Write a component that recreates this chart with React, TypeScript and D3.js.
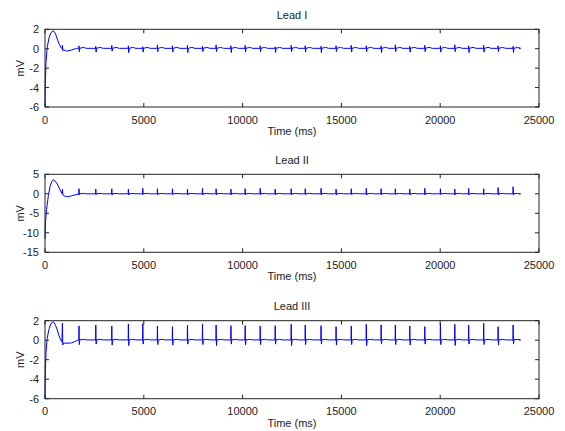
import React, { useEffect, useRef } from "react";
import * as d3 from "d3";

// beat (R peak) times in ms
const beatTimes = [
  1720, 2570, 3380, 4220, 4950, 5690, 6450, 7210, 7970, 8660, 9410, 10130,
  10890, 11650, 12460, 13170, 13970, 14730, 15500, 16260, 17010, 17730,
  18460, 19220, 20010, 20740, 21440, 22200, 22930, 23690,
];
const traceEnd = 23980;

// start-up transient of each lead [ms, mV] (includes the first beat)
const leadITransient = [
  [0, -5.9], [15, -3.6], [50, -1.4], [110, 0.1], [200, 1.1], [300, 1.65],
  [420, 1.85], [520, 1.6], [620, 1.0], [700, 0.55], [800, 0.15], [860, 0.0],
  [880, 0.35], [900, -0.2], [930, -0.1], [1100, -0.25], [1350, -0.13],
  [1600, 0.04],
];
const leadIITransient = [
  [0, -11.5], [20, -7.5], [80, -4.0], [170, -0.5], [253, 1.8], [340, 3.1],
  [420, 3.6], [520, 3.2], [620, 2.5], [720, 1.5], [846, 0.1], [870, 0.0],
  [885, 1.2], [905, -0.3], [950, -0.5], [1100, -0.75], [1300, -0.6],
  [1500, -0.3], [1700, -0.05],
];
const leadIIITransient = [
  [0, -6.0], [15, -3.5], [50, -1.3], [110, 0.2], [200, 1.1], [300, 1.7],
  [420, 1.9], [520, 1.6], [620, 1.05], [700, 0.5], [800, 0.0], [860, -0.2],
  [880, 1.73], [900, -0.5], [930, -0.3], [1300, -0.3], [1500, -0.15],
  [1650, 0.0],
];

// R and S amplitudes (mV) per beat
const leadIR = [
  0.3, 0.25, 0.35, 0.3, 0.2, 0.4, 0.3, 0.35, 0.25, 0.4, 0.3, 0.35, 0.3, 0.2,
  0.35, 0.3, 0.25, 0.3, 0.35, 0.3, 0.3, 0.4, 0.25, 0.35, 0.3, 0.4, 0.3, 0.35,
  0.3, 0.25,
];
const leadIS = [
  -0.3, -0.35, -0.25, -0.4, -0.35, -0.3, -0.35, -0.4, -0.3, -0.3, -0.4, -0.35,
  -0.3, -0.4, -0.3, -0.35, -0.4, -0.3, -0.35, -0.3, -0.4, -0.3, -0.35, -0.3,
  -0.35, -0.3, -0.4, -0.35, -0.3, -0.4,
];
const leadIIR = [
  1.3, 1.2, 1.3, 1.2, 1.4, 1.3, 1.3, 1.2, 1.4, 1.3, 1.2, 1.3, 1.4, 1.2, 1.3,
  1.3, 1.4, 1.2, 1.3, 1.4, 1.3, 1.3, 1.2, 1.4, 1.3, 1.2, 1.4, 1.3, 1.6, 1.8,
];
const leadIIS = [
  -0.3, -0.2, -0.3, -0.3, -0.2, -0.3, -0.2, -0.3, -0.3, -0.2, -0.3, -0.3,
  -0.2, -0.3, -0.3, -0.2, -0.3, -0.3, -0.2, -0.3, -0.3, -0.2, -0.3, -0.3,
  -0.2, -0.3, -0.3, -0.2, -0.3, -0.3,
];
const leadIIIR = [
  1.46, 1.56, 1.46, 1.67, 1.69, 1.46, 1.39, 1.56, 1.67, 1.56, 1.49, 1.5,
  1.46, 1.49, 1.63, 1.56, 1.49, 1.39, 1.46, 1.63, 1.56, 1.56, 1.46, 1.39,
  1.73, 1.63, 1.56, 1.73, 1.39, 1.56,
];
const leadIIIS = [
  -0.45, -0.4, -0.5, -0.55, -0.4, -0.45, -0.5, -0.4, -0.45, -0.55, -0.4,
  -0.5, -0.45, -0.4, -0.55, -0.45, -0.4, -0.5, -0.45, -0.55, -0.4, -0.45,
  -0.5, -0.4, -0.45, -0.55, -0.4, -0.45, -0.5, -0.4,
];

const xTicks = [0, 5000, 10000, 15000, 20000, 25000];
const leadITicks = [-6, -4, -2, 0, 2];
const leadIITicks = [-15, -10, -5, 0, 5];
const leadIIITicks = [-6, -4, -2, 0, 2];

function buildTrace(transient: number[][], r: number[], s: number[], base: number, tw: number) {
  const pts = transient.map((p) => [p[0], p[1]]);
  beatTimes.forEach((bt, i) => {
    pts.push([bt - 40, base]);
    pts.push([bt - 12, base - 0.05]);
    pts.push([bt, r[i]]);
    pts.push([bt + 18, s[i]]);
    pts.push([bt + 40, base]);
    pts.push([bt + 220, base + tw]);
    pts.push([bt + 380, base]);
  });
  pts.push([traceEnd, base]);
  return pts;
}

const panels = [
  { title: "Lead I", top: 29.3, bottom: 107, domain: [-6, 2], ticks: leadITicks,
    data: buildTrace(leadITransient, leadIR, leadIS, 0.04, 0.1) },
  { title: "Lead II", top: 174.3, bottom: 252.3, domain: [-15, 5], ticks: leadIITicks,
    data: buildTrace(leadIITransient, leadIIR, leadIIS, 0.0, 0.1) },
  { title: "Lead III", top: 320.7, bottom: 398.7, domain: [-6, 2], ticks: leadIIITicks,
    data: buildTrace(leadIIITransient, leadIIIR, leadIIIS, 0.03, 0.06) },
];

const W = 565;
const H = 431;
const left = 45;
const right = 539;

export default function App() {
  const ref = useRef<SVGSVGElement>(null);

  useEffect(() => {
    const svg = d3.select(ref.current);
    svg.selectAll("*").remove();
    const font = "'Liberation Sans', Arial, sans-serif";
    const x = d3.scaleLinear().domain([0, 25000]).range([left, right]);

    panels.forEach((p) => {
      const y = d3.scaleLinear().domain(p.domain).range([p.bottom, p.top]);
      const g = svg.append("g");

      const line = d3.line<number[]>().x((d) => x(d[0])).y((d) => y(d[1]));
      g.append("path")
        .attr("d", line(p.data))
        .attr("fill", "none")
        .attr("stroke", "#0000ff")
        .attr("stroke-width", 1)
        .attr("stroke-linejoin", "round");

      g.append("rect")
        .attr("x", left).attr("y", p.top)
        .attr("width", right - left).attr("height", p.bottom - p.top)
        .attr("fill", "none").attr("stroke", "#222").attr("stroke-width", 1);

      // ticks pointing inward on all four sides
      xTicks.forEach((t) => {
        g.append("line").attr("x1", x(t)).attr("x2", x(t))
          .attr("y1", p.bottom).attr("y2", p.bottom - 4).attr("stroke", "#222");
        g.append("line").attr("x1", x(t)).attr("x2", x(t))
          .attr("y1", p.top).attr("y2", p.top + 4).attr("stroke", "#222");
        g.append("text").attr("x", x(t)).attr("y", p.bottom + 16.5)
          .attr("text-anchor", "middle").attr("font-family", font)
          .attr("font-size", 11).attr("fill", "#222").text(String(t));
      });
      p.ticks.forEach((t) => {
        g.append("line").attr("x1", left).attr("x2", left + 4)
          .attr("y1", y(t)).attr("y2", y(t)).attr("stroke", "#222");
        g.append("line").attr("x1", right).attr("x2", right - 4)
          .attr("y1", y(t)).attr("y2", y(t)).attr("stroke", "#222");
        g.append("text").attr("x", 39).attr("y", y(t) + 4)
          .attr("text-anchor", "end").attr("font-family", font)
          .attr("font-size", 11).attr("fill", "#222").text(String(t));
      });

      g.append("text").attr("x", (left + right) / 2).attr("y", p.top - 10.5)
        .attr("text-anchor", "middle").attr("font-family", font)
        .attr("font-size", 11).attr("fill", "#222").text(p.title);
      g.append("text").attr("x", (left + right) / 2).attr("y", p.bottom + 28)
        .attr("text-anchor", "middle").attr("font-family", font)
        .attr("font-size", 11).attr("fill", "#222").text("Time (ms)");
      g.append("text")
        .attr("transform", `translate(24,${(p.top + p.bottom) / 2}) rotate(-90)`)
        .attr("text-anchor", "middle").attr("font-family", font)
        .attr("font-size", 11).attr("fill", "#222").text("mV");
    });
  }, []);

  return (
    <svg ref={ref} width={W} height={H}
      style={{ position: "absolute", left: 0, top: 0, background: "#fff" }} />
  );
}
